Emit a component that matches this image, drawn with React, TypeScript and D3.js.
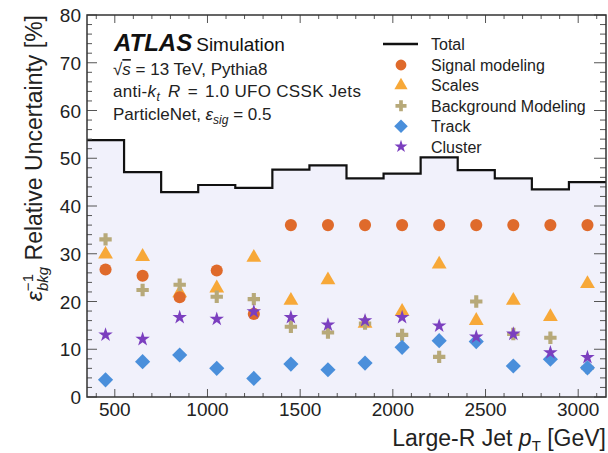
import React from 'react';
import * as d3 from 'd3';

// bin centres in GeV (bins are 200 GeV wide)
const binCenters = [450, 650, 850, 1050, 1250, 1450, 1650, 1850, 2050, 2250, 2450, 2650, 2850, 3050];
const total = [53.8, 47.1, 42.9, 44.4, 43.8, 47.6, 48.5, 45.8, 46.8, 50.2, 47.5, 45.8, 43.5, 45.0];
const signalModeling = [26.7, 25.4, 20.9, 26.5, 17.4, 36.0, 36.0, 36.0, 36.0, 36.0, 36.0, 36.0, 36.0, 36.0];
const scales = [29.9, 29.4, 21.8, 22.8, 29.2, 20.2, 24.5, 15.4, 17.9, 27.8, 16.0, 20.2, 16.8, 23.7];
const bkgModeling = [33.0, 22.4, 23.5, 21.0, 20.5, 14.7, 13.5, 15.4, 13.0, 8.4, 20.0, 13.2, 12.4, 6.1];
const track = [3.6, 7.4, 8.8, 6.0, 3.9, 6.9, 5.7, 7.1, 10.4, 11.8, 11.6, 6.5, 7.9, 6.1];
const cluster = [13.0, 12.1, 16.7, 16.3, 17.9, 16.7, 15.1, 16.0, 16.7, 14.9, 12.6, 13.2, 9.3, 8.3];

const xTicks = [500, 1000, 1500, 2000, 2500, 3000];
const yTicks = [0, 10, 20, 30, 40, 50, 60, 70, 80];

const W = 608;
const H = 453;
const left = 87, right = 606, top = 15, bottom = 397;
const binWidth = 200;
const font = "'Liberation Sans', Arial, Helvetica, sans-serif";

const x = d3.scaleLinear().domain([350, 3150]).range([left, right]);
const y = d3.scaleLinear().domain([0, 80]).range([bottom, top]);

const series = [
  { name: 'Scales', values: scales, color: '#f7a838', symbol: d3.symbolTriangle, size: 95, rot: 0 },
  { name: 'Signal modeling', values: signalModeling, color: '#df6a2b', symbol: d3.symbolCircle, size: 115, rot: 0 },
  { name: 'Background Modeling', values: bkgModeling, color: '#b7a979', symbol: d3.symbolCross, size: 85, rot: 0 },
  { name: 'Track', values: track, color: '#4a8fdb', symbol: d3.symbolSquare, size: 115, rot: 45 },
  { name: 'Cluster', values: cluster, color: '#7b3fbf', symbol: d3.symbolStar, size: 65, rot: 0 },
];
const legendOrder = ['Signal modeling', 'Scales', 'Background Modeling', 'Track', 'Cluster'];

export default function App() {
  const stepPts: [number, number][] = binCenters.map((c, i) => [c - binWidth / 2, total[i]]);
  stepPts.push([binCenters[binCenters.length - 1] + binWidth / 2, total[total.length - 1]]);

  const area = d3.area<[number, number]>()
    .x(d => x(d[0])).y0(y(0)).y1(d => y(d[1]))
    .curve(d3.curveStepAfter);
  const line = d3.line<[number, number]>()
    .x(d => x(d[0])).y(d => y(d[1]))
    .curve(d3.curveStepAfter);

  const xMinor = d3.range(400, 3150, 100);
  const yMinor = d3.range(0, 81, 2);
  const tickColor = '#555';

  return (
    <svg width={W} height={H} style={{ position: 'absolute', left: 0, top: 0 }} fontFamily={font}>
      <rect x={0} y={0} width={W} height={H} fill="white" />
      <clipPath id="plot">
        <rect x={left} y={top} width={right - left} height={bottom - top} />
      </clipPath>
      <g clipPath="url(#plot)">
        <path d={area(stepPts) || ''} fill="#f1f1fb" />
        <path d={line(stepPts) || ''} fill="none" stroke="#111" strokeWidth={2.2} />
        {series.map(s => (
          <g key={s.name}>
            {s.values.map((v, i) => (
              <path key={i}
                d={d3.symbol().type(s.symbol).size(s.size)() || ''}
                transform={`translate(${x(binCenters[i])},${y(v)}) rotate(${s.rot})`}
                fill={s.color} />
            ))}
          </g>
        ))}
      </g>

      {/* ticks */}
      <g stroke={tickColor} strokeWidth={1}>
        {xMinor.map(t => {
          const major = t % 500 === 0;
          const len = major ? 8 : 4;
          return (
            <g key={'x' + t}>
              <line x1={x(t)} x2={x(t)} y1={bottom} y2={bottom - len} />
              <line x1={x(t)} x2={x(t)} y1={top} y2={top + len} />
            </g>
          );
        })}
        {yMinor.map(t => {
          const major = t % 10 === 0;
          return (
            <g key={'y' + t}>
              <line x1={left} x2={left + (major ? 10 : 5)} y1={y(t)} y2={y(t)} />
              <line x1={right} x2={right - (major ? 12 : 6)} y1={y(t)} y2={y(t)} />
            </g>
          );
        })}
      </g>
      <rect x={left} y={top} width={right - left} height={bottom - top} fill="none" stroke="#333" strokeWidth={1.5} />

      {/* tick labels */}
      {xTicks.map(t => (
        <text key={'xl' + t} x={x(t)} y={416} textAnchor="middle" fontSize={19} fill="#222">{t}</text>
      ))}
      {yTicks.map(t => (
        <text key={'yl' + t} x={81} y={y(t) + 7} textAnchor="end" fontSize={19} fill="#222">{t}</text>
      ))}

      {/* axis titles */}
      <text x={606} y={446} textAnchor="end" fontSize={23} fill="#222">
        Large-R Jet <tspan fontStyle="italic">p</tspan>
        <tspan fontSize={15} dy={5}>T</tspan>
        <tspan dy={-5}> [GeV]</tspan>
      </text>
      <text transform={`translate(42,${top}) rotate(-90)`} textAnchor="end" fontSize={23} fill="#222">
        <tspan fontStyle="italic">ε</tspan>
        <tspan fontSize={15} dy={-9}>−1</tspan>
        <tspan fontSize={15} fontStyle="italic" dx={-17} dy={15}>bkg</tspan>
        <tspan dy={-6}> Relative Uncertainty [%]</tspan>
      </text>

      {/* ATLAS label */}
      <text x={114} y={51} fontSize={24} fill="#111">
        <tspan fontWeight="bold" fontStyle="italic">ATLAS</tspan>
        <tspan fontSize={19} dx={4}>Simulation</tspan>
      </text>
      <text x={113} y={75} fontSize={17} fill="#222">
        √<tspan fontStyle="italic" style={{ textDecoration: 'overline' }}>s</tspan> = 13 TeV, Pythia8
      </text>
      <text x={113} y={97} fontSize={17} fill="#222" letterSpacing={0.3}>
        anti-<tspan fontStyle="italic">k</tspan>
        <tspan fontStyle="italic" fontSize={12} dy={4}>t</tspan>
        <tspan dy={-4} dx={3}> </tspan><tspan fontStyle="italic">R</tspan><tspan dx={2}> = </tspan><tspan dx={2}>1.0 UFO CSSK Jets</tspan>
      </text>
      <text x={113} y={120} fontSize={17} fill="#222">
        ParticleNet, <tspan fontStyle="italic">ε</tspan>
        <tspan fontStyle="italic" fontSize={12} dy={4}>sig</tspan>
        <tspan dy={-4}> = 0.5</tspan>
      </text>

      {/* legend */}
      <g fontSize={16} fill="#222">
        <line x1={383} x2={418} y1={44} y2={44} stroke="#111" strokeWidth={2.5} />
        <text x={431} y={50}>Total</text>
        {legendOrder.map((name, i) => {
          const s = series.find(d => d.name === name)!;
          const ly = 65 + i * 20.4;
          return (
            <g key={name}>
              <path d={d3.symbol().type(s.symbol).size(s.size * 0.8)() || ''}
                transform={`translate(401,${ly}) rotate(${s.rot})`} fill={s.color} />
              <text x={431} y={ly + 6}>{name}</text>
            </g>
          );
        })}
      </g>
    </svg>
  );
}
